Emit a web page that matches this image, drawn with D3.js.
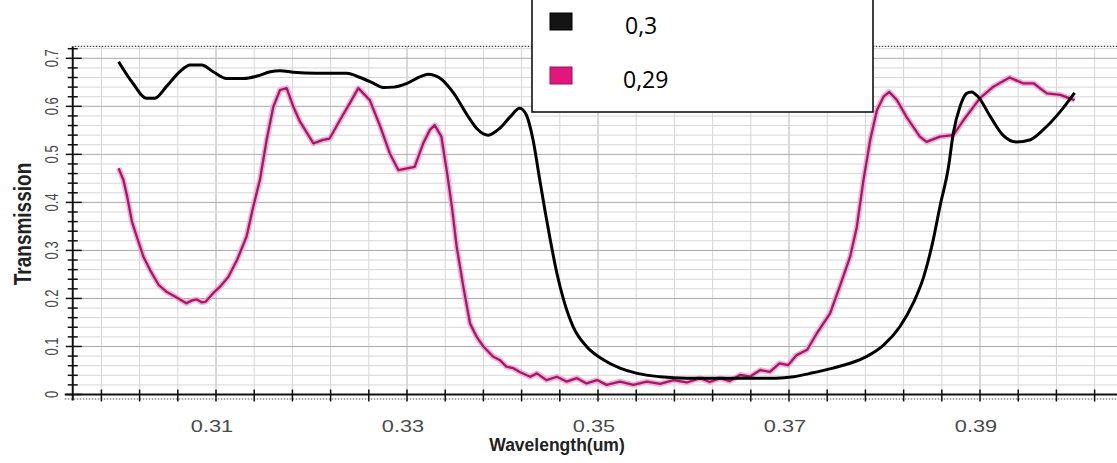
<!DOCTYPE html>
<html>
<head>
<meta charset="utf-8">
<script src="https://cdn.jsdelivr.net/npm/d3@7"></script>
<style>
  html, body { margin: 0; padding: 0; background: #fff; }
  svg { display: block; }
</style>
</head>
<body>
<svg id="chart" width="1117" height="463"></svg>
<script>
// Legend entries (period values) and their line colours
const seriesNames = ["0,3", "0,29"];
const seriesColors = ["#000000", "#a01c64"];

// Labelled ticks
const xTickLabels = [0.31, 0.33, 0.35, 0.37, 0.39];
const yTickLabels = [0, 0.1, 0.2, 0.3, 0.4, 0.5, 0.6, 0.7];

// Transmission spectrum, period 0.3  — [wavelength (um), transmission]
const spectrum03 = [
  [0.2998, 0.693], [0.3013, 0.648], [0.3027, 0.617], [0.3036, 0.617], [0.3048, 0.641],
  [0.3062, 0.672], [0.3073, 0.686], [0.3085, 0.686], [0.3097, 0.672], [0.3111, 0.658],
  [0.3129, 0.658], [0.3143, 0.663], [0.3157, 0.672], [0.3167, 0.674], [0.3181, 0.671],
  [0.3205, 0.669], [0.3237, 0.669], [0.3251, 0.660], [0.3265, 0.648], [0.3275, 0.639],
  [0.3286, 0.640], [0.3300, 0.648], [0.3314, 0.662], [0.3322, 0.667], [0.3335, 0.658],
  [0.3349, 0.627], [0.3363, 0.582], [0.3373, 0.554], [0.3385, 0.540], [0.3397, 0.554],
  [0.3408, 0.578], [0.3418, 0.596], [0.3425, 0.582], [0.3432, 0.530], [0.3439, 0.447],
  [0.3445, 0.377], [0.3450, 0.322], [0.3457, 0.252], [0.3464, 0.197], [0.3474, 0.141],
  [0.3488, 0.100], [0.3506, 0.072], [0.3523, 0.055], [0.3541, 0.044], [0.3565, 0.037],
  [0.3593, 0.034], [0.3628, 0.034], [0.3686, 0.034], [0.3705, 0.037], [0.3722, 0.044],
  [0.3746, 0.055], [0.3764, 0.065], [0.3781, 0.079], [0.3799, 0.103], [0.3816, 0.141],
  [0.3830, 0.190], [0.3841, 0.245], [0.3851, 0.322], [0.3858, 0.391], [0.3867, 0.474],
  [0.3872, 0.544], [0.3879, 0.599], [0.3886, 0.627], [0.3891, 0.630], [0.3898, 0.620],
  [0.3911, 0.578], [0.3924, 0.540], [0.3938, 0.526], [0.3952, 0.530], [0.3966, 0.551],
  [0.3984, 0.589], [0.3999, 0.628]
];

// Transmission spectrum, period 0.29 — [wavelength (um), transmission]
const spectrum029 = [
  [0.2998, 0.471], [0.3003, 0.447], [0.3007, 0.412], [0.3012, 0.360], [0.3017, 0.329],
  [0.3024, 0.287], [0.3031, 0.259], [0.3040, 0.228], [0.3048, 0.214], [0.3057, 0.204],
  [0.3069, 0.190], [0.3075, 0.196], [0.3080, 0.198], [0.3085, 0.192], [0.3089, 0.193],
  [0.3097, 0.211], [0.3104, 0.224], [0.3113, 0.245], [0.3122, 0.280], [0.3132, 0.329],
  [0.3139, 0.391], [0.3146, 0.447], [0.3153, 0.530], [0.3160, 0.599], [0.3167, 0.634],
  [0.3174, 0.638], [0.3181, 0.599], [0.3188, 0.568], [0.3202, 0.523], [0.3212, 0.530],
  [0.3219, 0.533], [0.3230, 0.572], [0.3240, 0.606], [0.3249, 0.638], [0.3261, 0.613],
  [0.3272, 0.558], [0.3282, 0.502], [0.3291, 0.467], [0.3308, 0.474], [0.3317, 0.523],
  [0.3324, 0.551], [0.3329, 0.561], [0.3336, 0.537], [0.3342, 0.461], [0.3347, 0.391],
  [0.3352, 0.308], [0.3359, 0.224], [0.3366, 0.148], [0.3373, 0.120], [0.3380, 0.100],
  [0.3390, 0.079], [0.3397, 0.072], [0.3404, 0.058], [0.3411, 0.055], [0.3418, 0.047],
  [0.3429, 0.037], [0.3436, 0.044], [0.3446, 0.030], [0.3457, 0.037], [0.3467, 0.027],
  [0.3478, 0.034], [0.3488, 0.023], [0.3499, 0.030], [0.3509, 0.020], [0.3523, 0.027],
  [0.3537, 0.020], [0.3551, 0.027], [0.3565, 0.022], [0.3579, 0.030], [0.3593, 0.025],
  [0.3607, 0.034], [0.3617, 0.026], [0.3628, 0.034], [0.3638, 0.028], [0.3649, 0.041],
  [0.3659, 0.037], [0.3670, 0.051], [0.3680, 0.047], [0.3690, 0.065], [0.3699, 0.061],
  [0.3708, 0.082], [0.3719, 0.093], [0.3729, 0.127], [0.3743, 0.169], [0.3753, 0.224],
  [0.3764, 0.287], [0.3771, 0.349], [0.3778, 0.447], [0.3785, 0.530], [0.3792, 0.592],
  [0.3799, 0.620], [0.3805, 0.630], [0.3813, 0.613], [0.3823, 0.578], [0.3837, 0.537],
  [0.3844, 0.526], [0.3858, 0.537], [0.3872, 0.540], [0.3883, 0.572], [0.3900, 0.617],
  [0.3914, 0.641], [0.3931, 0.660], [0.3945, 0.648], [0.3956, 0.648], [0.3970, 0.627],
  [0.3984, 0.624], [0.3999, 0.613]
];

const svg = d3.select("#chart");
const W = 1117, H = 463;
svg.append("rect").attr("width", W).attr("height", H).attr("fill", "#fff");

// Scales: plot area runs from the y axis (x=73) off the right edge of the page
const x = d3.scaleLinear().domain([0.295, 0.4045]).range([72.75, 1118.5]);
const y = d3.scaleLinear().domain([0, 0.725]).range([394.5, 46.3]);

const plotLeft = x(0.295), plotRight = W, plotTop = y(0.725), plotBottom = y(0);

// Tick positions
const xMinor = d3.range(0, 27).map(i => +(0.298 + i * 0.004).toFixed(3));
const yMinor = d3.range(0, 37).map(i => +(i * 0.02).toFixed(2));
const isXMajor = v => xTickLabels.some(t => Math.abs(t - v) < 1e-6);
const isYMajor = v => yTickLabels.some(t => Math.abs(t - v) < 1e-6);

// Grid
const grid = svg.append("g");
grid.selectAll("line.vg").data(xMinor).join("line")
  .attr("x1", d => x(d)).attr("x2", d => x(d))
  .attr("y1", plotTop).attr("y2", plotBottom)
  .attr("stroke", d => isXMajor(d) ? "#b4b4b4" : "#d6d6d6")
  .attr("stroke-width", 1);
grid.selectAll("line.hg").data(yMinor.filter(v => v > 0)).join("line")
  .attr("x1", plotLeft).attr("x2", plotRight)
  .attr("y1", d => y(d)).attr("y2", d => y(d))
  .attr("stroke", d => isYMajor(d) ? "#a8a8a8" : "#d6d6d6")
  .attr("stroke-width", 1);

// Dotted frame lines (top and just under the x axis)
svg.append("line").attr("x1", plotLeft + 2).attr("x2", plotRight)
  .attr("y1", plotTop).attr("y2", plotTop)
  .attr("stroke", "#444").attr("stroke-width", 1.2).attr("stroke-dasharray", "1.5,1.5");
svg.append("line").attr("x1", plotLeft - 8).attr("x2", plotRight)
  .attr("y1", plotBottom + 4.5).attr("y2", plotBottom + 4.5)
  .attr("stroke", "#555").attr("stroke-width", 1).attr("stroke-dasharray", "1.5,1.5");

// Curves
const line = d3.line().x(d => x(d[0])).y(d => y(d[1]));
const smooth = d3.line().x(d => x(d[0])).y(d => y(d[1])).curve(d3.curveMonotoneX);

svg.append("path").datum(spectrum029).attr("d", line)
  .attr("fill", "none").attr("stroke", "#f4a2d6").attr("stroke-width", 5.5)
  .attr("stroke-linejoin", "round").attr("opacity", 0.9);
svg.append("path").datum(spectrum029).attr("d", line)
  .attr("fill", "none").attr("stroke", seriesColors[1]).attr("stroke-width", 2.3)
  .attr("stroke-linejoin", "round");
svg.append("path").datum(spectrum03).attr("d", smooth)
  .attr("fill", "none").attr("stroke", seriesColors[0]).attr("stroke-width", 3)
  .attr("stroke-linejoin", "round");

// X axis
const xAxis = svg.append("g");
xAxis.append("line").attr("x1", plotLeft - 8).attr("x2", plotRight)
  .attr("y1", plotBottom).attr("y2", plotBottom)
  .attr("stroke", "#111").attr("stroke-width", 1.8);
xAxis.selectAll("line.t").data(xMinor).join("line")
  .attr("x1", d => x(d)).attr("x2", d => x(d))
  .attr("y1", plotBottom - 5).attr("y2", plotBottom + 7)
  .attr("stroke", "#111").attr("stroke-width", 1.5);
xAxis.selectAll("text").data(xTickLabels).join("text")
  .attr("transform", d => `translate(${x(d) - 4},432) scale(1.32,1)`)
  .attr("text-anchor", "middle")
  .attr("font-family", "Liberation Sans, Arial, sans-serif")
  .attr("font-size", 16.5).attr("fill", "#4a4a4a")
  .text(d => d.toFixed(2));
svg.append("text")
  .attr("x", 557).attr("y", 451)
  .attr("text-anchor", "middle")
  .attr("font-family", "Liberation Sans, Arial, sans-serif")
  .attr("font-weight", "bold").attr("font-size", 17.5).attr("fill", "#222")
  .text("Wavelength(um)");

// Y axis
const yAxis = svg.append("g");
yAxis.append("line").attr("x1", plotLeft).attr("x2", plotLeft)
  .attr("y1", plotTop).attr("y2", plotBottom + 6)
  .attr("stroke", "#111").attr("stroke-width", 2);
yAxis.selectAll("line.t").data(yMinor).join("line")
  .attr("x1", d => isYMajor(d) ? plotLeft - 7 : plotLeft - 5)
  .attr("x2", d => isYMajor(d) ? plotLeft + 9 : plotLeft + 5)
  .attr("y1", d => y(d)).attr("y2", d => y(d))
  .attr("stroke", "#111").attr("stroke-width", 1.5);
yAxis.selectAll("text").data(yTickLabels).join("text")
  .attr("transform", d => `translate(57.5,${y(d)}) scale(1.4,1) rotate(-90)`)
  .attr("text-anchor", "middle")
  .attr("font-family", "Liberation Sans, Arial, sans-serif")
  .attr("font-size", 13).attr("fill", "#4a4a4a")
  .text(d => d === 0 ? "0" : d.toFixed(1));
svg.append("text")
  .attr("transform", "translate(31,224) scale(1.25,1) rotate(-90)")
  .attr("text-anchor", "middle")
  .attr("font-family", "Liberation Sans, Arial, sans-serif")
  .attr("font-weight", "bold").attr("font-size", 19).attr("fill", "#222")
  .text("Transmission");

// Legend
const legend = svg.append("g");
legend.append("rect").attr("x", 532).attr("y", -5).attr("width", 341).attr("height", 117)
  .attr("fill", "#fff").attr("stroke", "#111").attr("stroke-width", 1.6);
const legendSwatch = ["#141414", "#e0187c"];
const legendRows = [13, 67];
legend.selectAll("rect.sw").data(seriesNames).join("rect")
  .attr("x", 550).attr("y", (d, i) => legendRows[i])
  .attr("width", 22).attr("height", 17)
  .attr("fill", (d, i) => legendSwatch[i])
  .attr("stroke", (d, i) => i === 0 ? "#000" : "#9a1256").attr("stroke-width", 1);
legend.selectAll("text").data(seriesNames).join("text")
  .attr("x", (d, i) => i === 0 ? 625 : 623)
  .attr("y", (d, i) => legendRows[i] + 21)
  .attr("font-family", "Open Sans, sans-serif")
  .attr("font-size", 23).attr("fill", "#000")
  .text(d => d);
</script>
</body>
</html>
